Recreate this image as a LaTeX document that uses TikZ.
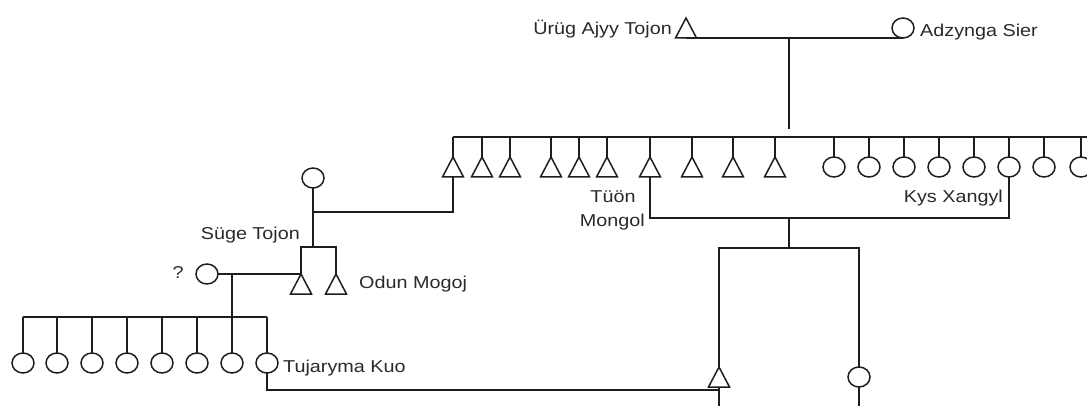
\documentclass[tikz,border=0pt]{standalone}
\usepackage{fontspec}
\setmainfont{Liberation Sans}[FakeStretch=1.15]
\usetikzlibrary{shapes.geometric}
\definecolor{linec}{HTML}{1E1E1E}
\definecolor{textc}{HTML}{2A2A2A}
\begin{document}
\begin{tikzpicture}[x=1pt,y=-1pt,
  conn/.style={line width=1.5pt, draw=linec},
  tri/.style={rectangle, minimum width=21pt, minimum height=20pt, inner sep=0pt, outer sep=0pt},
  circ/.style={ellipse, draw=linec, line width=1.5pt, minimum width=22pt, minimum height=20pt, inner sep=0pt, outer sep=0pt},
  lbl/.style={inner sep=0pt, text=textc, font=\fontsize{17.2pt}{20pt}\selectfont},
]
\useasboundingbox[fill=white] (0,0) rectangle (1087,406);

% ---- top couple
\node[tri] (urug) at (686,28) {};
\node[circ] (adz) at (903,28) {};
\node[lbl, anchor=base east] (tUrug) at (672,35) {Ürüg Ajyy Tojon};
\node[lbl, anchor=base west] (tAdz) at (920,37) {Adzynga Sier};
\coordinate (m0) at (789,38);
\coordinate (m0b) at (789,129);

% ---- siblings
\foreach \n/\x in {s1/453,s2/482,s3/510,s4/551,s5/579,s6/607,s7/650,s8/692,s9/733,s10/775}
  \node[tri] (\n) at (\x,167) {};
\foreach \n/\x in {d1/834,d2/869,d3/904,d4/939,d5/974,d6/1009,d7/1044,d8/1081}
  \node[circ] (\n) at (\x,167) {};
\coordinate (sbL) at (453,137);
\coordinate (sbR) at (1090,137);

% ---- Suge branch
\node[circ] (suge) at (313,178) {};
\node[tri] (o1) at (301,284) {};
\node[tri] (o2) at (336,284) {};
\node[circ] (q) at (207,274) {};
\coordinate (sj) at (313,212);
\coordinate (sb) at (313,247);
\coordinate (qj) at (232,274);
\coordinate (kb) at (232,317);
\foreach \n/\x in {k1/23,k2/57,k3/92,k4/127,k5/162,k6/197,k7/232,k8/267}
  \node[circ] (\n) at (\x,363) {};

% ---- lower family
\node[tri] (bt) at (719,377) {};
\node[circ] (bc) at (859,377) {};
\coordinate (tl) at (789,218);
\coordinate (br) at (789,248);
\coordinate (ml) at (719,390);
\coordinate (btEnd) at (719,410);
\coordinate (bcEnd) at (859,410);

% ---- labels
\node[lbl, anchor=base east] (tMongol) at (645,227) {Mongol};
\node[lbl, anchor=base] (tTuon) at (613,203) {Tüön};
\node[lbl, anchor=base east] (tKys) at (1003,203) {Kys Xangyl};
\node[lbl, anchor=base east] (tSuge) at (300,240) {Süge Tojon};
\node[lbl, anchor=base west] (tOdun) at (359,288) {Odun Mogoj};
\node[lbl, anchor=base] (tQ) at (178,278) {?};
\node[lbl, anchor=base west] (tTuj) at (283,372) {Tujaryma Kuo};

% ---- triangles
\foreach \n in {urug,s1,s2,s3,s4,s5,s6,s7,s8,s9,s10,o1,o2,bt}
  \draw[conn, line join=miter] (\n.south west) -- (\n.north) -- (\n.south east) -- cycle;

% ---- connectors
\draw[conn] (urug.south) -- (adz.south);
\draw[conn] (m0) -- (m0b);
\draw[conn] (sbL) -- (sbR);
\foreach \n in {s1,s2,s3,s4,s5,s6,s7,s8,s9,s10}
  \draw[conn] (\n.north) -- (\n.north |- sbL);
\foreach \n in {d1,d2,d3,d4,d5,d6,d7,d8}
  \draw[conn] (\n.north) -- (\n.north |- sbL);

\draw[conn] (s1.south) |- (sj);
\draw[conn] (suge.south) -- (sb);
\draw[conn] (o1.north) |- (sb) -| (o2.north);
\draw[conn] (q.east) -- (o1.north);
\draw[conn] (qj) -- (kb);
\draw[conn] (k1.north |- kb) -- (k8.north |- kb);
\foreach \n in {k1,k2,k3,k4,k5,k6,k7,k8}
  \draw[conn] (\n.north) -- (\n.north |- kb);

\draw[conn] (s7.south) |- (tl) -| (d6.south);
\draw[conn] (tl) -- (br);
\draw[conn] (bt.north) |- (br) -| (bc.north);
\draw[conn] (k8.south) |- (ml);
\draw[conn] (bt.south) -- (btEnd);
\draw[conn] (bc.south) -- (bcEnd);
\end{tikzpicture}
\end{document}
